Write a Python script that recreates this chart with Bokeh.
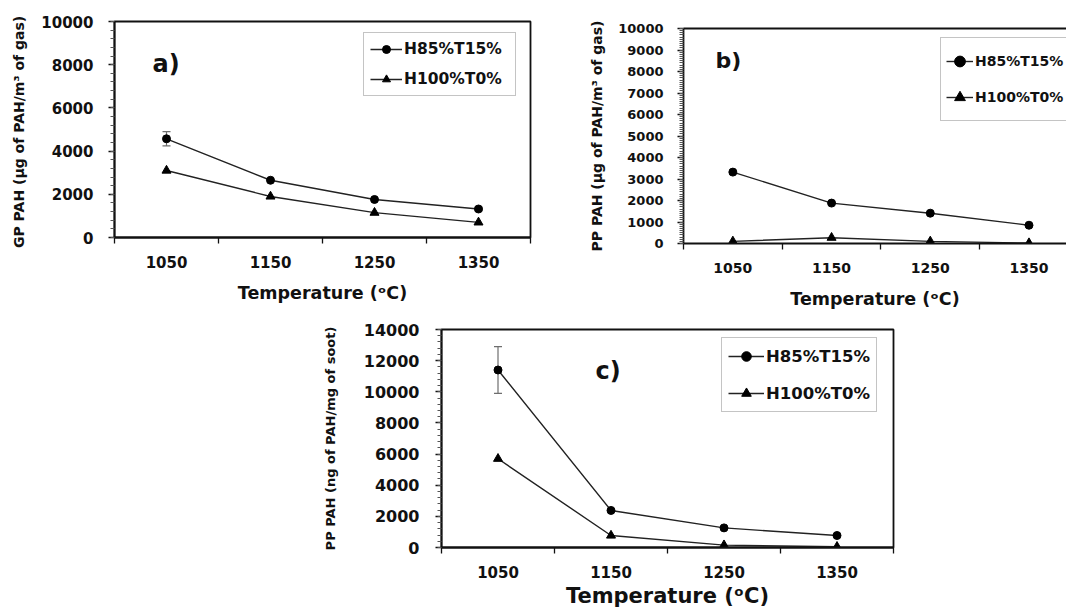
from bokeh.plotting import figure
from bokeh.models import (ColumnDataSource, FixedTicker, SingleIntervalTicker, LinearAxis,
                          Legend, LegendItem, Whisker, TeeHead, Label, Range1d, Spacer)
from bokeh.layouts import column, row
from bokeh.embed import file_html
from bokeh.resources import INLINE

# ---------------- data ----------------
temps = [1050, 1150, 1250, 1350]
temp_bounds = [1000, 1100, 1200, 1300, 1400]
series_names = ["H85%T15%", "H100%T0%"]

a_h85 = [4570, 2650, 1760, 1320]
a_h85_err = [330, 0, 0, 80]
a_h100 = [3100, 1900, 1150, 700]

b_h85 = [3320, 1880, 1410, 850]
b_h85_err = [0, 0, 0, 0]
b_h100 = [100, 270, 100, 20]

c_h85 = [11400, 2380, 1260, 770]
c_h85_err = [1500, 0, 0, 0]
c_h100 = [5700, 770, 150, 50]

x_title = "Temperature (ᵒC)"
a_ytitle = "GP PAH  (μg of PAH/m³ of gas)"
b_ytitle = "PP PAH (μg of PAH/m³ of gas)"
c_ytitle = "PP PAH (ng of PAH/mg of soot)"

FONT = "DejaVu Sans"
INK = "#111111"


def panel(cfg, h85, h85_err, h100):
    p = figure(width=cfg["w"], height=cfg["h"],
               x_range=Range1d(1000, cfg["xmax"]), y_range=Range1d(0, cfg["ymax"]),
               output_backend="svg", toolbar_location=None,
               min_border_left=cfg["ml"], min_border_right=cfg["mr"],
               min_border_top=cfg["mt"], min_border_bottom=cfg["mb"])
    p.xgrid.visible = False
    p.ygrid.visible = False
    p.background_fill_color = "white"
    p.border_fill_color = "white"

    xa = p.below[0]
    xa.ticker = FixedTicker(ticks=temps, minor_ticks=temp_bounds)
    xa.major_tick_line_color = None
    xa.major_tick_out = 0
    xa.major_tick_in = 0
    xa.minor_tick_line_color = INK
    xa.minor_tick_line_width = 1.3
    xa.minor_tick_out = 6
    xa.minor_tick_in = 0
    xa.axis_line_color = INK
    xa.axis_line_width = 1.8
    xa.major_label_standoff = cfg["xstand"]
    xa.major_label_text_font = FONT
    xa.major_label_text_font_style = "bold"
    xa.major_label_text_font_size = cfg["xtick_fs"]
    xa.major_label_text_color = INK
    xa.axis_label = x_title
    xa.axis_label_text_font = FONT
    xa.axis_label_text_font_style = "bold"
    xa.axis_label_text_font_size = cfg["xtitle_fs"]
    xa.axis_label_text_color = INK
    xa.axis_label_standoff = cfg["xtitle_stand"]

    ya = p.left[0]
    ya.ticker = SingleIntervalTicker(interval=cfg["yint"], num_minor_ticks=cfg["yminor"])
    ya.major_tick_line_color = INK
    ya.major_tick_line_width = 1.3
    ya.major_tick_out = 6
    ya.major_tick_in = 0
    ya.minor_tick_line_color = "#555555"
    ya.minor_tick_line_width = 1
    ya.minor_tick_out = 4
    ya.minor_tick_in = 0
    ya.axis_line_color = INK
    ya.axis_line_width = 1.8
    ya.major_label_standoff = cfg["ystand"]
    ya.major_label_text_font = FONT
    ya.major_label_text_font_style = "bold"
    ya.major_label_text_font_size = cfg["ytick_fs"]
    ya.major_label_text_color = INK
    ya.axis_label = cfg["ytitle"]
    ya.axis_label_text_font = FONT
    ya.axis_label_text_font_style = "bold"
    ya.axis_label_text_font_size = cfg["ytitle_fs"]
    ya.axis_label_text_color = INK
    ya.axis_label_standoff = cfg["ytitle_stand"]

    if cfg["outline"]:
        p.outline_line_color = INK
        p.outline_line_width = 1.8
    else:
        p.outline_line_color = None
        top = LinearAxis(ticker=FixedTicker(ticks=[]), axis_line_color=INK, axis_line_width=1.8,
                         major_tick_line_color=None, minor_tick_line_color=None,
                         major_label_text_font_size="0px")
        p.add_layout(top, "above")

    l1 = p.line(temps, h85, line_color="#222222", line_width=1.4)
    s1 = p.scatter(temps, h85, marker="circle", size=8, color="black")
    l2 = p.line(temps, h100, line_color="#222222", line_width=1.4)
    s2 = p.scatter(temps, h100, marker="triangle", size=9, color="black")

    idx = [i for i, e in enumerate(h85_err) if e > 0]
    if idx:
        src = ColumnDataSource(dict(x=[temps[i] for i in idx],
                                    upper=[h85[i] + h85_err[i] for i in idx],
                                    lower=[h85[i] - h85_err[i] for i in idx]))
        w = Whisker(source=src, base="x", upper="upper", lower="lower",
                    line_color="#6e6e6e", line_width=1.2,
                    upper_head=TeeHead(size=8, line_color="#6e6e6e", line_width=1.2),
                    lower_head=TeeHead(size=8, line_color="#6e6e6e", line_width=1.2))
        p.add_layout(w)

    leg = Legend(items=[LegendItem(label=series_names[0], renderers=[l1, s1]),
                        LegendItem(label=series_names[1], renderers=[l2, s2])],
                 location=cfg["leg_loc"], orientation="vertical",
                 label_text_font=FONT, label_text_font_style="bold",
                 label_text_font_size=cfg["leg_fs"], label_text_color=INK,
                 glyph_width=cfg["glyph_w"], glyph_height=cfg["item_h"],
                 label_height=cfg["item_h"], label_width=cfg["label_w"], label_standoff=2,
                 spacing=cfg["leg_spacing"], padding=cfg["leg_pad"], margin=0,
                 border_line_color="#8a8a8a", border_line_width=1.3,
                 background_fill_color="white", background_fill_alpha=1.0)
    p.add_layout(leg)

    p.add_layout(Label(x=cfg["tag_x"], y=cfg["tag_y"], x_units="screen", y_units="screen",
                       text=cfg["tag"], text_font=FONT, text_font_style="bold",
                       text_font_size=cfg["tag_fs"], text_color=INK, text_baseline="middle"))
    return p


cfg_a = dict(w=560, h=307, ml=114, mr=30, mt=21, mb=70, xmax=1400, ymax=10000,
             yint=2000, yminor=5, xstand=12, xtick_fs="15px", xtitle_fs="17.5px", xtitle_stand=12,
             ystand=15, ytick_fs="15px", ytitle=a_ytitle, ytitle_fs="14px", ytitle_stand=11,
             outline=True, leg_loc=(249, 141), leg_fs="15.5px", glyph_w=32, item_h=20,
             label_w=105, leg_spacing=10, leg_pad=6, tag="a)", tag_x=38, tag_y=174, tag_fs="24px")

cfg_b = dict(w=506, h=306, ml=123, mr=0, mt=21, mb=70, xmax=1388, ymax=10000,
             yint=1000, yminor=10, xstand=13, xtick_fs="14px", xtitle_fs="17.5px", xtitle_stand=13,
             ystand=14, ytick_fs="13px", ytitle=b_ytitle, ytitle_fs="14px", ytitle_stand=10,
             outline=False, leg_loc=(257, 122), leg_fs="14px", glyph_w=27, item_h=36,
             label_w=80, leg_spacing=0, leg_pad=5, tag="b)", tag_x=32, tag_y=183, tag_fs="22px")

cfg_c = dict(w=1066, h=297, ml=441, mr=173, mt=16, mb=63, xmax=1400, ymax=14000,
             yint=2000, yminor=5, xstand=12, xtick_fs="15px", xtitle_fs="21px", xtitle_stand=3,
             ystand=16, ytick_fs="16px", ytitle=c_ytitle, ytitle_fs="13px", ytitle_stand=23,
             outline=True, leg_loc=(280, 135), leg_fs="16.5px", glyph_w=36, item_h=24,
             label_w=100, leg_spacing=13, leg_pad=6, tag="c)", tag_x=154, tag_y=177, tag_fs="24px")

pa = panel(cfg_a, a_h85, a_h85_err, a_h100)
pb = panel(cfg_b, b_h85, b_h85_err, b_h100)
pc = panel(cfg_c, c_h85, c_h85_err, c_h100)

layout = column(row(pa, column(Spacer(width=506, height=7), pb, spacing=0), spacing=0), pc, spacing=0)
open("out.html", "w").write(file_html(layout, INLINE))
